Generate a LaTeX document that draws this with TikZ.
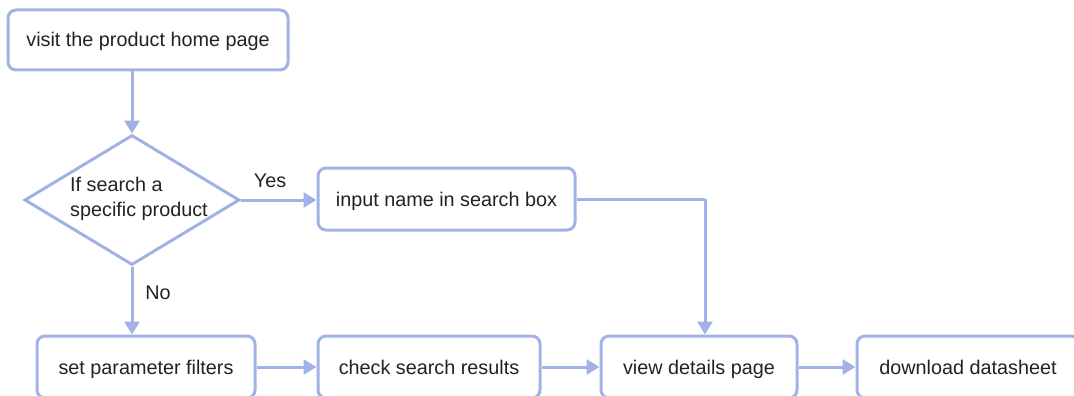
\documentclass[tikz,border=0pt]{standalone}
\usepackage{fontspec}
\setmainfont{Liberation Sans}
\usetikzlibrary{arrows.meta,shapes.geometric}
\definecolor{flowline}{RGB}{162,178,230}
\definecolor{flowtext}{RGB}{34,34,34}
\tikzset{
  x=1pt, y=-1pt,
  every node/.style={font=\fontsize{19.8}{25}\selectfont, text=flowtext},
  stepbox/.style={draw=flowline, line width=3pt, rounded corners=8pt, fill=white,
    minimum height=62pt, inner sep=0pt, text height=14pt, text depth=0pt},
  decide/.style={draw=flowline, line width=3pt, diamond, inner sep=0pt,
    minimum width=215pt, minimum height=130pt, aspect=1.65},
  flow/.style={draw=flowline, line width=3pt, -{Triangle[length=13pt,width=15pt]}},
  plain/.style={draw=flowline, line width=3pt},
  tag/.style={inner sep=0pt}
}
\begin{document}
\begin{tikzpicture}
\useasboundingbox (0,0) rectangle (1074,396);
\clip (0,0) rectangle (1074,396);

% top start box
\node[stepbox, minimum width=280pt, minimum height=60pt] (home) at (148,40) {visit the product home page};

% decision
\node[decide] (dec) at (132,200) {};
\node[tag, align=left] (dectext) at (139,199) {If search a\\specific product};

% search branch
\node[stepbox, minimum width=257pt] (input) at (446.5,199) {input name in search box};

% bottom row
\node[stepbox, minimum width=218pt] (filters) at (146,367) {set parameter filters};
\node[stepbox, minimum width=222pt] (results) at (429,367) {check search results};
\node[stepbox, minimum width=196pt] (details) at (699,367) {view details page};
\node[stepbox, minimum width=222pt] (sheet) at (968,367) {download datasheet};

% connectors
\draw[flow] (home.south -| dec.north) -- (dec.north);
\draw[flow] (dec.east) -- (input.west |- dec.east);
\node[tag] (yes) at (270,181) {Yes};
\draw[flow] (dec.south) -- (dec.south |- filters.north);
\node[tag] (no) at (158,293) {No};
\coordinate (bend) at (705,199);
\draw[plain] (input.east) -- (bend);
\draw[flow] (bend) -- (bend |- details.north);
\draw[flow] (filters.east) -- (results.west);
\draw[flow] (results.east) -- (details.west);
\draw[flow] (details.east) -- (sheet.west);
\end{tikzpicture}
\end{document}
